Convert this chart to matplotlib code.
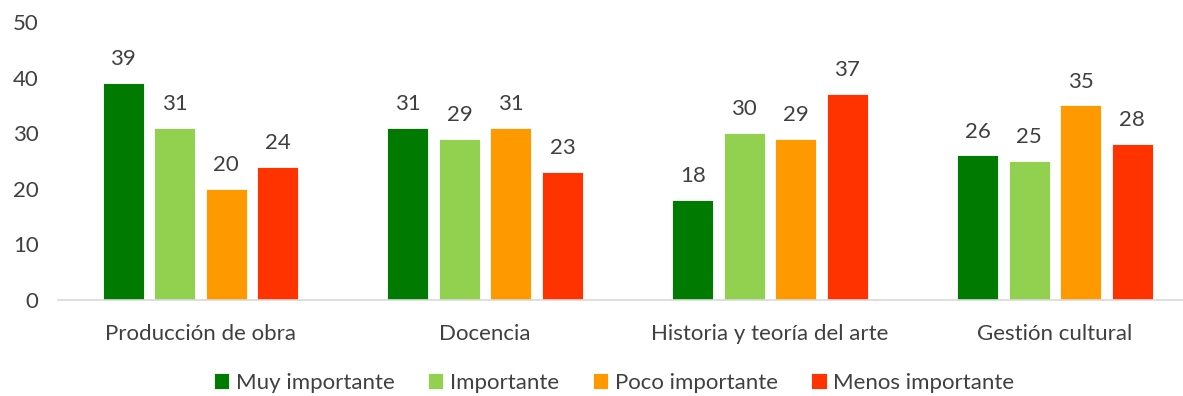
import numpy as np
import matplotlib.pyplot as plt

plt.rcParams['font.family'] = ['Lato', 'DejaVu Sans']

categorias = ["Producción de obra", "Docencia", "Historia y teoría del arte", "Gestión cultural"]
series = ["Muy importante", "Importante", "Poco importante", "Menos importante"]
muy_importante = [39, 31, 18, 26]
importante = [31, 29, 30, 25]
poco_importante = [20, 31, 29, 35]
menos_importante = [24, 23, 37, 28]
colores = ["#007A00", "#92D050", "#FF9900", "#FF3300"]

valores = [muy_importante, importante, poco_importante, menos_importante]
gris = "#404040"
fs = 16

fig = plt.figure(figsize=(11.83, 3.96), dpi=100)
ax = fig.add_axes([58 / 1183, (396 - 300) / 396, (1183 - 58) / 1183, 278 / 396])

x = np.arange(len(categorias))
ancho = 0.144
paso = 0.181
for i, (nombre, vals, col) in enumerate(zip(series, valores, colores)):
    pos = x + (i - 1.5) * paso
    barras = ax.bar(pos, vals, ancho, color=col, label=nombre, edgecolor="white", linewidth=0.6)
    for b, v in zip(barras, vals):
        ax.annotate(str(v), (b.get_x() + b.get_width() / 2, v), xytext=(0, 10),
                    textcoords="offset points", ha="center", va="bottom",
                    fontsize=fs, color=gris)

ax.set_xlim(-0.5, 3.45)
ax.set_ylim(0, 50)
ax.set_yticks(range(0, 51, 10))
ax.set_xticks(x)
ax.set_xticklabels(categorias)
ax.tick_params(axis="both", length=0, labelsize=fs, labelcolor=gris)
ax.tick_params(axis="y", pad=14)
ax.tick_params(axis="x", pad=17)
for s in ["top", "right", "left"]:
    ax.spines[s].set_visible(False)
ax.spines["bottom"].set_color("#D9D9D9")
ax.spines["bottom"].set_linewidth(1.2)

leg = fig.legend(loc="center", bbox_to_anchor=(614 / 1183, 1 - 383 / 396), ncol=4,
                 frameon=False, fontsize=fs, handlelength=0.7, handleheight=0.7,
                 handletextpad=0.3, columnspacing=1.5)
for t in leg.get_texts():
    t.set_color(gris)

fig.savefig("out.png", dpi=100)
